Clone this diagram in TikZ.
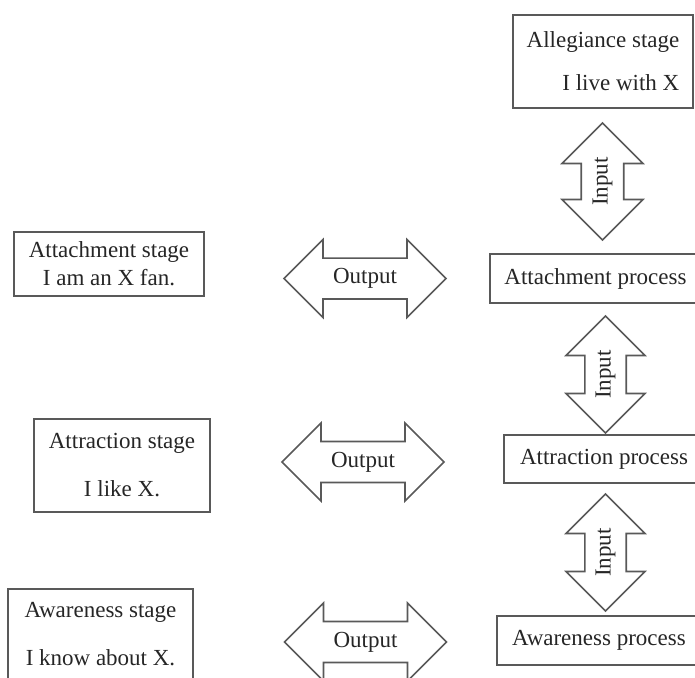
\documentclass[tikz,border=0pt]{standalone}
\usepackage{fontspec}
\setmainfont{Liberation Serif}
\usetikzlibrary{shapes.arrows}
\tikzset{
	box/.style={draw=black!65,line width=0.8pt,fill=white,text=black!85,
		font=\fontsize{11.5}{14}\selectfont,inner sep=0pt},
	dblarrow/.style={double arrow,draw=black!65,line width=0.8pt,text=black!85,
		font=\fontsize{11.5}{14}\selectfont,double arrow head extend=9.25pt,
		inner ysep=4.8pt,inner xsep=0pt}
}
\begin{document}
\begin{tikzpicture}[x=0.5pt,y=-0.5pt]
	%==khung hinh
	\useasboundingbox (0,0) rectangle (695,677);
	\clip (0,0) rectangle (695,677);
	%==cac giai doan (trai)
	\node[box,minimum width=90pt,minimum height=46.5pt,align=right] (allegiance) at (603,61.5) {Allegiance stage\\[7.5pt]I live with X};
	\node[box,minimum width=95pt,minimum height=32pt,align=center] (attachS) at (109,264) {Attachment stage\\I am an X fan.};
	\node[box,minimum width=88pt,minimum height=46.5pt,align=center] (attractS) at (122,465.5) {Attraction stage\\[10pt]I like X.};
	\node[box,minimum width=92.5pt,minimum height=45pt,align=center] (awareS) at (100.5,634) {Awareness stage\\[10pt]I know about X.};
	%==cac qua trinh (phai)
	\node[box,minimum width=105.5pt,minimum height=24.5pt] (attachP) at (595.5,278.5) {Attachment process};
	\node[box,minimum width=100pt,minimum height=24pt] (attractP) at (604,459) {Attraction process};
	\node[box,minimum width=102pt,minimum height=24.5pt] (awareP) at (599,640.5) {Awareness process};
	%==mui ten
	\node[dblarrow,minimum height=81pt,minimum width=38.5pt] (out1) at (365,278.5) {Output};
	\node[dblarrow,minimum height=81pt,minimum width=39pt] (out2) at (363,462) {Output};
	\node[dblarrow,minimum height=81pt,minimum width=39pt] (out3) at (365.5,642) {Output};
	\node[dblarrow,rotate=90,minimum height=58.5pt,minimum width=40.5pt] (in1) at (602.5,181.5) {Input};
	\node[dblarrow,rotate=90,minimum height=58.5pt,minimum width=39.5pt] (in2) at (605.5,374.5) {Input};
	\node[dblarrow,rotate=90,minimum height=58.5pt,minimum width=39.5pt] (in3) at (605.5,552.5) {Input};
\end{tikzpicture}
\end{document}
